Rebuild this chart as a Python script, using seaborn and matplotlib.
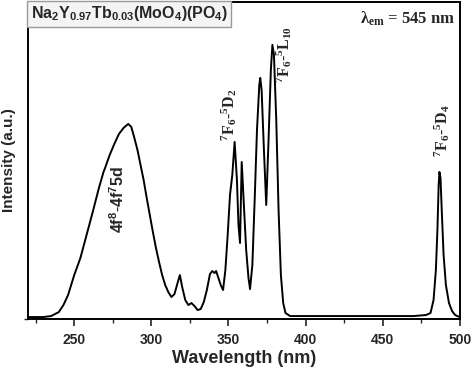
import seaborn as sns
import pandas as pd
import matplotlib.pyplot as plt
from matplotlib.ticker import MultipleLocator

# excitation spectrum
wavelength = [220, 230, 235, 240, 243, 246, 250, 254, 258, 262, 266, 269, 270, 273, 276,
              279, 282, 285, 287, 289, 291, 293, 295, 297, 299, 301, 303, 305, 307, 309,
              311, 313, 315, 317, 318.5, 320, 322, 324, 326, 328, 330, 332, 334, 336, 338,
              339.5, 341, 342, 343.5, 345, 346.5, 348, 349.5, 351, 352.5, 354, 355.5, 356.5,
              357.5, 358.6, 360, 361.5, 363, 364, 365.5, 367, 368.5, 370, 370.6, 371.5, 373,
              374.5, 376, 377.5, 378.5, 379.5, 381, 382.5, 384, 385.5, 387, 390, 400, 420,
              450, 470, 478, 481, 483, 484.5, 485.5, 486.3, 486.8, 487.5, 488.3, 489.5, 491,
              493, 495, 497, 500]
intensity = [2, 2, 3, 7, 14, 24, 44, 61, 84, 107, 131, 147, 151, 164, 175,
             185, 191, 195, 192, 181, 169, 154, 139, 121, 104, 87, 71, 57, 44, 34,
             27, 22, 25, 36, 44, 32, 19, 14, 16, 13, 9, 10, 17, 29, 45,
             48, 46, 48, 41, 34, 29, 49, 84, 124, 144, 177, 139, 94,
             76, 157, 114, 69, 41, 30, 54, 119, 189, 234, 241, 229, 169,
             114, 179, 249, 274, 264, 199, 109, 44, 16, 6, 3, 3, 3,
             3, 3, 4, 6, 19, 49, 89, 134, 147, 141, 109, 64, 34,
             16, 8, 4, 2]

# transition labels
label_text = [r'$\mathsf{4f^8\text{-}4f^7 5d}$',
              r'$\mathrm{{}^7F_6\text{-}{}^5D_2}$',
              r'$\mathrm{{}^7F_6\text{-}{}^5L_{10}}$',
              r'$\mathrm{{}^7F_6\text{-}{}^5D_4}$']
label_x = [278, 350.3, 385.8, 488.5]
label_y = [119, 204, 264, 188]

df = pd.DataFrame({'wl': wavelength, 'I': intensity})

sns.set_style('ticks')
plt.rcParams['font.family'] = ['Liberation Sans', 'DejaVu Sans']
plt.rcParams['mathtext.fontset'] = 'custom'
plt.rcParams['mathtext.rm'] = 'Liberation Serif:bold'
plt.rcParams['mathtext.it'] = 'Liberation Serif:bold'
plt.rcParams['mathtext.bf'] = 'Liberation Serif:bold'
plt.rcParams['mathtext.sf'] = 'Liberation Sans:bold'

fig = plt.figure(figsize=(4.74, 3.68), dpi=100)
ax = fig.add_axes([0.059, 0.133, 0.911, 0.862])

sns.lineplot(data=df, x='wl', y='I', color='black', linewidth=1.4, ax=ax)

for t, x, y in zip(label_text, label_x, label_y):
    ax.text(x, y, t, rotation=90, ha='center', va='center', fontsize=11.5)

ax.text(0.006, 0.992, r'$\mathsf{Na_2Y_{0.97}Tb_{0.03}(MoO_4)(PO_4)}$',
        transform=ax.transAxes, ha='left', va='top', fontsize=11.5,
        bbox=dict(boxstyle='square,pad=0.22', facecolor='#f4f4f4', edgecolor='#999999', linewidth=1))
ax.text(0.99, 0.975, r'$\mathrm{\lambda_{em}}$ = 545 nm', transform=ax.transAxes,
        ha='right', va='top', fontsize=12, fontweight='bold', family='Liberation Serif')

ax.set_xlim(220, 500)
ax.set_ylim(0, 317)
ax.xaxis.set_major_locator(MultipleLocator(50))
ax.xaxis.set_minor_locator(MultipleLocator(25))
ax.set_yticks([0])
ax.set_yticklabels([])
ax.tick_params(axis='x', which='major', direction='out', length=5, width=1.2,
               labelsize=10, pad=5)
ax.tick_params(axis='x', which='minor', direction='out', length=3, width=1.0)
ax.tick_params(axis='y', direction='out', length=3, width=1.0)
for lab in ax.get_xticklabels():
    lab.set_fontweight('bold')
for s in ax.spines.values():
    s.set_linewidth(1.4)
    s.set_color('black')

ax.set_xlabel('Wavelength (nm)', fontsize=13, fontweight='bold', labelpad=2)
ax.set_ylabel('Intensity (a.u.)', fontsize=11, fontweight='bold', labelpad=2)

fig.savefig('out.png', dpi=100)
